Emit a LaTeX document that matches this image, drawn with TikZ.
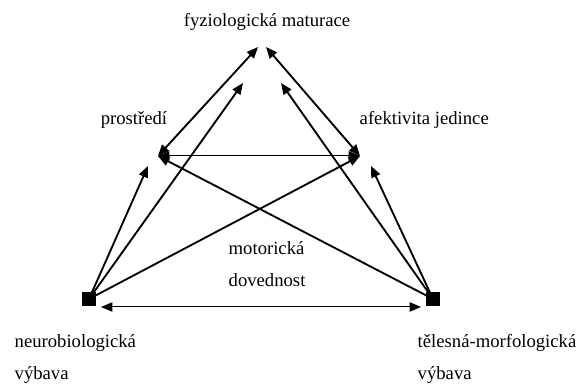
\documentclass[tikz,border=0pt]{standalone}
\usepackage{fontspec}
\setmainfont{Liberation Serif}
\usetikzlibrary{arrows.meta}

\begin{document}
\begin{tikzpicture}[x=0.75pt, y=-0.75pt,
    every node/.style={font=\fontsize{14}{16}\selectfont},
    link/.style={line width=1.4pt, -{Triangle[length=8.5pt,width=7pt]}},
    both/.style={line width=1.4pt, {Triangle[length=8.5pt,width=7pt]}-{Triangle[length=8.5pt,width=7pt]}},
    dbl/.style={both, double, double distance=0.5pt, line width=0.8pt},
    corner/.style={fill, inner sep=0pt, minimum size=10pt}]
    \useasboundingbox (0,0) rectangle (579,384);

    \coordinate (topL) at (258,47);
    \coordinate (topR) at (266,47);
    \coordinate (innerL) at (243,83);
    \coordinate (innerR) at (281,83);
    \coordinate (prost) at (158,156);
    \coordinate (prostlow) at (148,166);
    \coordinate (afekt) at (360,156);
    \coordinate (afektlow) at (371,166);
    \node[corner] (neuro) at (89,299) {};
    \node[corner] (teles) at (433,299) {};

    \node (matur) at (267,22) {fyziologická maturace};
    \node (prostlab) at (134,120) {prostředí};
    \node[anchor=west] (afektlab) at (355,120) {afektivita jedince};
    \node[anchor=west] (motor) at (224,248) {motorická};
    \node[anchor=west] (doved) at (224,280) {dovednost};
    \node[anchor=west] (neurolab) at (10,343) {neurobiologická};
    \node[anchor=west] (neurolab2) at (10,375) {výbava};
    \node[anchor=west] (teleslab) at (413,343) {tělesná-morfologická};
    \node[anchor=west] (teleslab2) at (413,375) {výbava};

    \draw[both] (prost) -- (topL);
    \draw[both] (afekt) -- (topR);
    \draw[dbl] (prost) -- (afekt);
    \draw[link] (neuro.center) -- (innerL);
    \draw[link] (teles.center) -- (innerR);
    \draw[link] (neuro.center) -- (prostlow);
    \draw[link] (teles.center) -- (afektlow);
    \draw[link] (neuro.center) -- (afekt);
    \draw[link] (teles.center) -- (prost);
    \draw[dbl] ([xshift=9pt, yshift=-6pt]neuro.center) -- ([xshift=-9pt, yshift=-6pt]teles.center);
\end{tikzpicture}
\end{document}
